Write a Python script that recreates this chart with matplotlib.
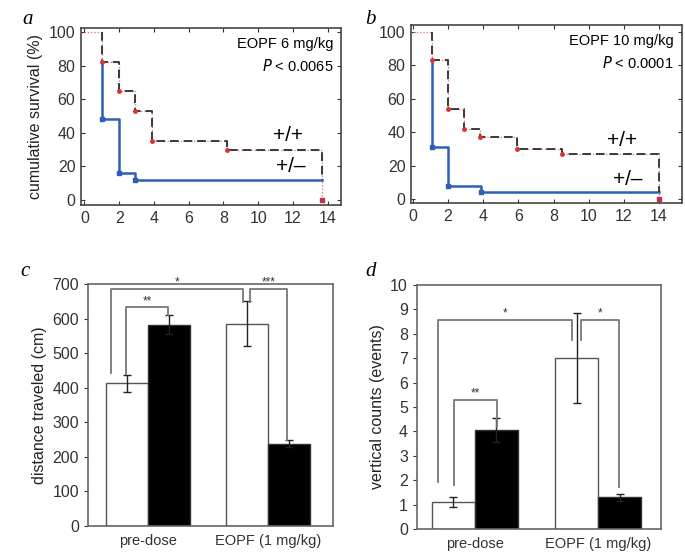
import numpy as np
import matplotlib
matplotlib.use('Agg')
import matplotlib.pyplot as plt

plt.rcParams['font.family'] = ['Liberation Sans', 'DejaVu Sans']

# survival data (days, %)
a_pp_t = [1, 1, 2, 2.9, 3.9, 8.2, 13.7]
a_pp_s = [100, 82, 65, 53, 35, 30, 30]
a_het_t = [1, 1, 2, 2.9, 13.7]
a_het_s = [82, 48, 16, 12, 12]

b_pp_t = [1.1, 1.1, 2, 2.9, 3.8, 5.9, 8.5, 14]
b_pp_s = [100, 83, 54, 42, 37, 30, 27, 27]
b_het_t = [1.1, 1.1, 2, 3.9, 14]
b_het_s = [83, 31, 8, 4, 4]

# bar data
groups = ['pre-dose', 'EOPF (1 mg/kg)']
c_white = [413, 585]
c_white_err = [25, 65]
c_black = [582, 238]
c_black_err = [28, 10]
d_white = [1.1, 7.0]
d_white_err = [0.2, 1.85]
d_black = [4.05, 1.3]
d_black_err = [0.5, 0.15]

W, H = 685, 552
fig = plt.figure(figsize=(W / 100, H / 100), dpi=100)


def box(x0, y0, x1, y1):
    return [x0 / W, 1 - y1 / H, (x1 - x0) / W, (y1 - y0) / H]


def survival(ax, pp_t, pp_s, het_t, het_s, title, ptxt, xlim, ylim):
    # faint red dotted underlay for +/+
    ax.plot([0] + pp_t + [pp_t[-1]], [100] + pp_s + [0], ls=':', color='#e07070', lw=0.9, drawstyle='steps-post', zorder=2)
    ax.step(het_t, het_s, where='post', color='#2e5fb8', lw=1.8, zorder=3)
    ax.plot(het_t[1:-1], het_s[1:-1], 's', color='#2e5fb8', ms=3.5, zorder=4)
    ax.step(pp_t + [pp_t[-1]], pp_s + [het_s[-1]], where='post', color='#3a3a3a', lw=1.4, ls=(0, (4.5, 2.5)), zorder=4)
    ax.plot(pp_t[1:-1], pp_s[1:-1], 'o', color='#e03030', ms=2.5, zorder=5)
    ax.plot([pp_t[-1]], [0], 's', color='#c03050', ms=3.2, zorder=5)
    ax.set_xlim(*xlim)
    ax.set_ylim(*ylim)
    ax.set_xticks(range(0, 15, 2))
    ax.set_yticks(range(0, 101, 20))
    ax.tick_params(direction='in', length=3, labelsize=11.5, colors='#333333', top=True, right=True, pad=4)
    for s in ax.spines.values():
        s.set_color('#444444')
        s.set_linewidth(1.2)
    ax.text(0.97, 0.95, title, transform=ax.transAxes, ha='right', va='top', fontsize=10.5)
    ax.text(0.97, 0.83, ptxt, transform=ax.transAxes, ha='right', va='top', fontsize=10.5)


ax_a = fig.add_axes(box(81, 28, 341, 205))
survival(ax_a, a_pp_t, a_pp_s, a_het_t, a_het_s, 'EOPF 6 mg/kg', r'$P$ < 0.0065', (-0.2, 14.77), (-3, 102.4))
ax_a.set_ylabel('cumulative survival (%)', fontsize=11.5, color='#222222')
ax_a.text(11.7, 33, '+/+', fontsize=15, ha='center', va='bottom')
ax_a.text(11.9, 14, '+/\u2013', fontsize=15, ha='center', va='bottom')

ax_b = fig.add_axes(box(411, 25, 682, 203))
survival(ax_b, b_pp_t, b_pp_s, b_het_t, b_het_s, 'EOPF 10 mg/kg', r'$P$ < 0.0001', (-0.1, 15.3), (-2.4, 104))
ax_b.text(11.9, 29, '+/+', fontsize=15, ha='center', va='bottom')
ax_b.text(12.2, 6, '+/\u2013', fontsize=15, ha='center', va='bottom')


def bars(ax, white, werr, black, berr, ylim, yticks, ylabel, xlim):
    x = np.arange(len(groups))
    bw = 0.35
    ax.bar(x - bw / 2, white, bw, color='white', edgecolor='#555555', lw=1.0, zorder=2)
    ax.bar(x + bw / 2, black, bw, color='black', edgecolor='#333333', lw=1.0, zorder=2)
    ax.errorbar(x - bw / 2, white, yerr=werr, fmt='none', ecolor='#222222', elinewidth=1, capsize=3, zorder=3)
    ax.errorbar(x + bw / 2, black, yerr=berr, fmt='none', ecolor='#222222', elinewidth=1, capsize=3, zorder=3)
    ax.set_xlim(*xlim)
    ax.set_ylim(*ylim)
    ax.set_yticks(yticks)
    ax.set_xticks(x)
    ax.set_xticklabels(groups, fontsize=10.5, color='#333333')
    ax.tick_params(axis='x', length=0, pad=6)
    ax.tick_params(axis='y', direction='out', length=3, labelsize=11.5, colors='#333333')
    for s in ax.spines.values():
        s.set_color('#666666')
        s.set_linewidth(1.2)
    ax.set_ylabel(ylabel, fontsize=11.5, color='#222222')
    return x, bw


def bracket(ax, x0, y0, x1, y1, ytop, label):
    ax.plot([x0, x0, x1, x1], [y0, ytop, ytop, y1], color='#777777', lw=1.3, zorder=4)
    ax.text((x0 + x1) / 2, ytop, label, ha='center', va='bottom', fontsize=8.5, color='#333333')


ax_c = fig.add_axes(box(88, 284, 333, 526))
bars(ax_c, c_white, c_white_err, c_black, c_black_err, (0, 700), range(0, 701, 100), 'distance traveled (cm)', (-0.5, 1.54))
bracket(ax_c, -0.18, 440, 0.17, 610, 633, '**')
bracket(ax_c, -0.31, 442, 0.79, 648, 686, '*')
bracket(ax_c, 0.85, 648, 1.16, 248, 686, '***')

ax_d = fig.add_axes(box(417, 285, 661, 529))
bars(ax_d, d_white, d_white_err, d_black, d_black_err, (0, 10), range(0, 11), 'vertical counts (events)', (-0.47, 1.51))
bracket(ax_d, -0.30, 1.93, 0.79, 7.75, 8.57, '*')
bracket(ax_d, 0.86, 7.75, 1.17, 1.72, 8.57, '*')
bracket(ax_d, -0.17, 1.8, 0.18, 4.18, 5.29, '**')

for lbl, px, py in [('a', 22, 20), ('b', 365, 20), ('c', 20, 272), ('d', 365, 272)]:
    fig.text(px / W, 1 - py / H, lbl, fontsize=15, style='italic', family='Liberation Serif', ha='left', va='center')

fig.savefig('out.png', dpi=100)
